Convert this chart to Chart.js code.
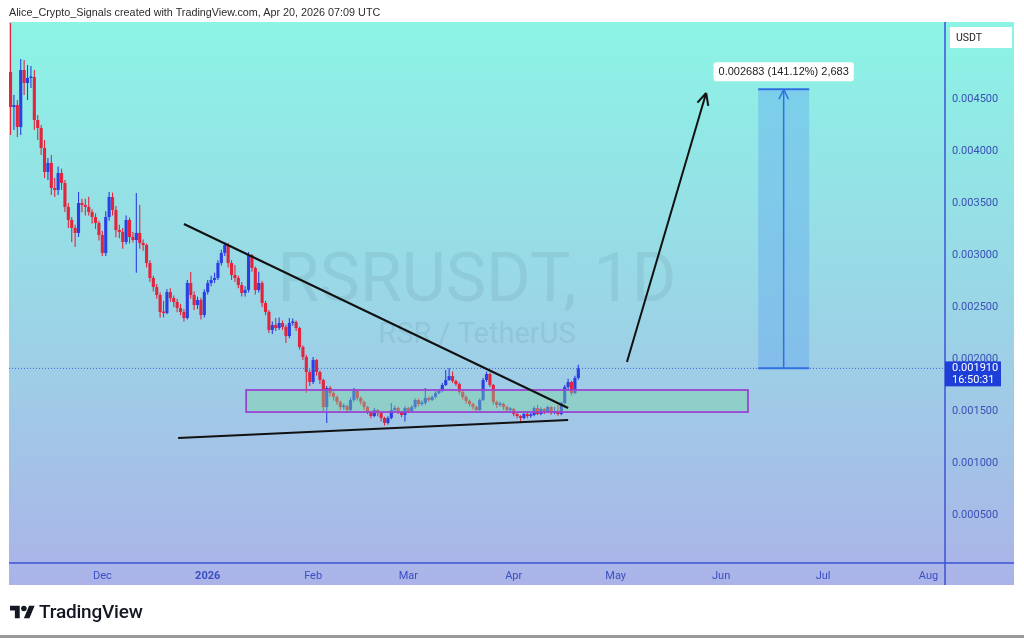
<!DOCTYPE html>
<html>
<head>
<meta charset="utf-8">
<script src="https://cdn.jsdelivr.net/npm/chart.js@4.4.1/dist/chart.umd.min.js"></script>
<style>
  html, body { margin: 0; padding: 0; background: #fff; }
  body { width: 1024px; height: 638px; position: relative; overflow: hidden; font-family: "Liberation Sans", Arial, sans-serif; }
  #grafica { position: absolute; left: 0; top: 0; }
  #titulo { position: absolute; left: 9px; top: 6px; font-size: 10.8px; color: #2b2b2b; z-index: 2; white-space: nowrap; }
  #marca { position: absolute; left: 10px; top: 600px; display: flex; align-items: center; z-index: 2; }
  #marca span { font-family: Roboto, sans-serif; font-weight: 500; font-size: 19px; color: #131722; margin-left: 4px; letter-spacing: -0.2px; }
  #pie { position: absolute; left: 0; top: 635px; width: 1024px; height: 3px; background: #9a9a9a; }
</style>
</head>
<body>
<div id="titulo">Alice_Crypto_Signals created with TradingView.com, Apr 20, 2026 07:09 UTC</div>
<canvas id="grafica" width="1024" height="638"></canvas>
<div id="marca">
  <svg width="25" height="18" viewBox="0 0 36 26"><path fill="#131722" d="M14 22H7V11H0V4h14v18zM28 22h-8l7.5-18h8L28 22z"/><circle fill="#131722" cx="20" cy="8" r="4"/></svg>
  <span>TradingView</span>
</div>
<div id="pie"></div>

<script>
// velas diarias RSRUSDT, dia 0 = 4 nov 2025
const aperturas = [
  0.004760,0.004423,0.004442,0.004231,0.004779,0.004654,0.004702,0.004711,0.004298,0.004221,
  0.004029,0.003798,0.003885,0.003644,0.003625,0.003788,0.003692,0.003462,0.003337,0.003260,
  0.003212,0.003500,0.003481,0.003462,0.003413,0.003365,0.003308,0.003192,0.003019,0.003365,
  0.003558,0.003433,0.003240,0.003221,0.003125,0.003337,0.003173,0.003144,0.003212,0.003115,
  0.003096,0.002923,0.002779,0.002692,0.002615,0.002452,0.002442,0.002644,0.002586,0.002548,
  0.002490,0.002452,0.002394,0.002731,0.002615,0.002519,0.002567,0.002423,0.002644,0.002731,
  0.002760,0.002779,0.002923,0.003019,0.003096,0.002923,0.002808,0.002779,0.002711,0.002635,
  0.002663,0.003000,0.002875,0.002663,0.002731,0.002538,0.002452,0.002279,0.002327,0.002298,
  0.002346,0.002308,0.002221,0.002346,0.002356,0.002298,0.002115,0.002019,0.001875,0.001779,
  0.001990,0.001875,0.001798,0.001538,0.001721,0.001673,0.001635,0.001587,0.001538,0.001548,
  0.001510,0.001606,0.001702,0.001625,0.001587,0.001538,0.001490,0.001452,0.001510,0.001481,
  0.001433,0.001385,0.001433,0.001510,0.001529,0.001490,0.001462,0.001529,0.001500,0.001538,
  0.001606,0.001567,0.001577,0.001625,0.001606,0.001635,0.001673,0.001692,0.001750,0.001798,
  0.001836,0.001788,0.001760,0.001683,0.001635,0.001596,0.001567,0.001538,0.001510,0.001606,
  0.001798,0.001856,0.001750,0.001587,0.001558,0.001567,0.001538,0.001510,0.001519,0.001471,
  0.001452,0.001433,0.001471,0.001452,0.001462,0.001529,0.001471,0.001519,0.001490,0.001538,
  0.001481,0.001500,0.001471,0.001577,0.001731,0.001779,0.001673,0.001817
];
const cierres = [
  0.004423,0.004442,0.004231,0.004779,0.004654,0.004702,0.004711,0.004298,0.004221,0.004029,
  0.003798,0.003885,0.003644,0.003625,0.003788,0.003692,0.003462,0.003337,0.003260,0.003212,
  0.003500,0.003481,0.003462,0.003413,0.003365,0.003308,0.003192,0.003019,0.003365,0.003558,
  0.003433,0.003240,0.003221,0.003125,0.003337,0.003173,0.003144,0.003212,0.003115,0.003096,
  0.002923,0.002779,0.002692,0.002615,0.002452,0.002442,0.002644,0.002586,0.002548,0.002490,
  0.002452,0.002394,0.002731,0.002615,0.002519,0.002567,0.002423,0.002644,0.002731,0.002760,
  0.002779,0.002923,0.003019,0.003096,0.002923,0.002808,0.002779,0.002711,0.002635,0.002663,
  0.003000,0.002875,0.002663,0.002731,0.002538,0.002452,0.002279,0.002327,0.002298,0.002346,
  0.002308,0.002221,0.002346,0.002356,0.002298,0.002115,0.002019,0.001875,0.001779,0.001990,
  0.001875,0.001798,0.001538,0.001721,0.001673,0.001635,0.001587,0.001538,0.001548,0.001510,
  0.001606,0.001702,0.001625,0.001587,0.001538,0.001490,0.001452,0.001510,0.001481,0.001433,
  0.001385,0.001433,0.001510,0.001529,0.001490,0.001462,0.001529,0.001500,0.001538,0.001606,
  0.001567,0.001577,0.001625,0.001606,0.001635,0.001673,0.001692,0.001750,0.001798,0.001836,
  0.001788,0.001760,0.001683,0.001635,0.001596,0.001567,0.001538,0.001510,0.001606,0.001798,
  0.001856,0.001750,0.001587,0.001558,0.001567,0.001538,0.001510,0.001519,0.001471,0.001452,
  0.001433,0.001471,0.001452,0.001462,0.001529,0.001471,0.001519,0.001490,0.001538,0.001481,
  0.001500,0.001471,0.001577,0.001731,0.001779,0.001673,0.001817,0.001910
];
const maximos = [
  0.005231,0.004538,0.004490,0.004884,0.004875,0.004827,0.004817,0.004779,0.004346,0.004250,
  0.004106,0.003933,0.003962,0.003740,0.003850,0.003830,0.003721,0.003500,0.003365,0.003290,
  0.003606,0.003540,0.003540,0.003560,0.003440,0.003400,0.003330,0.003230,0.003420,0.003606,
  0.003600,0.003470,0.003290,0.003260,0.003380,0.003360,0.003220,0.003596,0.003480,0.003150,
  0.003110,0.002950,0.002800,0.002720,0.002640,0.002560,0.002670,0.002680,0.002610,0.002580,
  0.002530,0.002480,0.002760,0.002836,0.002650,0.002600,0.002590,0.002670,0.002760,0.002800,
  0.002830,0.002950,0.003050,0.003125,0.003115,0.002950,0.002904,0.002800,0.002740,0.002700,
  0.003029,0.003010,0.002890,0.002840,0.002750,0.002560,0.002470,0.002360,0.002394,0.002400,
  0.002370,0.002330,0.002394,0.002390,0.002370,0.002310,0.002130,0.002040,0.001900,0.002020,
  0.002000,0.001890,0.001810,0.001740,0.001740,0.001690,0.001650,0.001600,0.001570,0.001560,
  0.001630,0.001720,0.001710,0.001640,0.001600,0.001550,0.001500,0.001530,0.001520,0.001495,
  0.001445,0.001450,0.001577,0.001550,0.001540,0.001500,0.001545,0.001540,0.001555,0.001620,
  0.001620,0.001600,0.001721,0.001640,0.001650,0.001690,0.001710,0.001770,0.001894,0.001913,
  0.001880,0.001800,0.001775,0.001700,0.001650,0.001610,0.001580,0.001550,0.001620,0.001820,
  0.001880,0.001870,0.001760,0.001600,0.001590,0.001580,0.001550,0.001535,0.001530,0.001480,
  0.001460,0.001490,0.001500,0.001480,0.001545,0.001560,0.001535,0.001530,0.001550,0.001545,
  0.001540,0.001560,0.001590,0.001750,0.001810,0.001790,0.001840,0.001945
];
const minimos = [
  0.004154,0.004202,0.004135,0.004154,0.004538,0.004490,0.004606,0.004202,0.004106,0.003962,
  0.003740,0.003721,0.003577,0.003558,0.003577,0.003625,0.003413,0.003260,0.003125,0.003077,
  0.003173,0.003410,0.003380,0.003380,0.003300,0.003250,0.003140,0.002990,0.002990,0.003330,
  0.003380,0.003170,0.003160,0.003060,0.003100,0.003110,0.003120,0.002830,0.003060,0.003040,
  0.002880,0.002740,0.002650,0.002580,0.002400,0.002400,0.002430,0.002550,0.002500,0.002450,
  0.002420,0.002360,0.002380,0.002580,0.002470,0.002480,0.002380,0.002400,0.002620,0.002700,
  0.002730,0.002760,0.002900,0.002990,0.002880,0.002760,0.002740,0.002680,0.002600,0.002600,
  0.002640,0.002840,0.002620,0.002640,0.002500,0.002420,0.002250,0.002240,0.002270,0.002280,
  0.002280,0.002154,0.002200,0.002320,0.002270,0.002090,0.001990,0.001673,0.001740,0.001760,
  0.001840,0.001760,0.001500,0.001385,0.001640,0.001600,0.001560,0.001510,0.001515,0.001480,
  0.001500,0.001590,0.001600,0.001560,0.001510,0.001470,0.001430,0.001440,0.001450,0.001400,
  0.001360,0.001370,0.001420,0.001495,0.001470,0.001440,0.001400,0.001480,0.001490,0.001520,
  0.001545,0.001550,0.001560,0.001590,0.001595,0.001620,0.001660,0.001680,0.001740,0.001790,
  0.001770,0.001740,0.001660,0.001610,0.001570,0.001540,0.001515,0.001480,0.001500,0.001595,
  0.001780,0.001730,0.001560,0.001530,0.001540,0.001510,0.001490,0.001495,0.001450,0.001430,
  0.001385,0.001420,0.001430,0.001435,0.001450,0.001460,0.001460,0.001470,0.001480,0.001465,
  0.001470,0.001455,0.001460,0.001565,0.001710,0.001650,0.001660,0.001800
];

// eje de tiempo (dias desde 4 nov 2025) y eje de precio
const diasMes = [27, 58, 89, 117, 148, 178, 209, 239, 270];
const etiquetasMes = ['Dec', '2026', 'Feb', 'Mar', 'Apr', 'May', 'Jun', 'Jul', 'Aug'];
const ticksPrecio = [0.0005, 0.0010, 0.0015, 0.0020, 0.0025, 0.0030, 0.0035, 0.0040, 0.0045];

// dibujos del autor en coordenadas de dia / precio
const lineaSuperior = [[51.0, 0.003298], [164.0, 0.001529]];
const lineaInferior = [[49.3, 0.001240], [164.0, 0.001413]];
const flecha = [[181.3, 0.001971], [204.6, 0.004558]];
const zonaDias = [69.3, 216.9];
const zonaPrecios = [0.001490, 0.001702];
const objetivoDias = [219.9, 234.9];
const objetivoPrecios = [0.001910, 0.004593];
const textoObjetivo = '0.002683 (141.12%) 2,683';
const ultimoPrecio = 0.001910;
const cuentaAtras = '16:50:31';

const AZUL = '#2b3fe3';
const ROJO = '#e3243d';
const dias = cierres.map((_, i) => i);
const colores = cierres.map((c, i) => c >= aperturas[i] ? AZUL : ROJO);

function linea(ctx, x1, y1, x2, y2) {
    ctx.beginPath();
    ctx.moveTo(x1, y1);
    ctx.lineTo(x2, y2);
    ctx.stroke();
}

function punta(ctx, x1, y1, x2, y2, largo) {
    const ang = Math.atan2(y2 - y1, x2 - x1);
    linea(ctx, x2, y2, x2 - largo * Math.cos(ang - 0.45), y2 - largo * Math.sin(ang - 0.45));
    linea(ctx, x2, y2, x2 - largo * Math.cos(ang + 0.45), y2 - largo * Math.sin(ang + 0.45));
}

const capas = {
    id: 'capas',
    beforeDraw(chart) {
        const { ctx, chartArea: a, scales: { x, y } } = chart;
        const g = ctx.createLinearGradient(0, a.top, 0, x.bottom);
        g.addColorStop(0, '#8cf4e5');
        g.addColorStop(0.5, '#9ad6e6');
        g.addColorStop(1, '#abb3e8');
        ctx.save();
        ctx.fillStyle = g;
        ctx.fillRect(a.left, a.top, y.right - a.left, x.bottom - a.top);
        ctx.restore();
    },
    beforeDatasetsDraw(chart) {
        const { ctx, chartArea: a } = chart;
        const cx = (a.left + a.right) / 2;
        const cy = (a.top + a.bottom) / 2;
        ctx.save();
        ctx.fillStyle = 'rgba(60, 95, 120, 0.11)';
        ctx.textAlign = 'center';
        ctx.textBaseline = 'middle';
        ctx.font = '68px Roboto, sans-serif';
        ctx.fillText('RSRUSDT, 1D', cx, cy - 9);
        ctx.font = '29px Roboto, sans-serif';
        ctx.fillText('RSR / TetherUS', cx, cy + 43);
        ctx.restore();
    },
    afterDatasetsDraw(chart) {
        const { ctx, chartArea: a, scales: { x, y } } = chart;
        ctx.save();

        // zona de soporte
        const zx1 = x.getPixelForValue(zonaDias[0]);
        const zx2 = x.getPixelForValue(zonaDias[1]);
        const zy1 = y.getPixelForValue(zonaPrecios[1]);
        const zy2 = y.getPixelForValue(zonaPrecios[0]);
        ctx.fillStyle = 'rgba(120, 215, 160, 0.42)';
        ctx.fillRect(zx1, zy1, zx2 - zx1, zy2 - zy1);
        ctx.strokeStyle = '#9a45d2';
        ctx.lineWidth = 1.8;
        ctx.strokeRect(zx1, zy1, zx2 - zx1, zy2 - zy1);

        // ultimo precio punteado
        const yp = y.getPixelForValue(ultimoPrecio);
        ctx.strokeStyle = '#4a5fd2';
        ctx.lineWidth = 1;
        ctx.setLineDash([1, 2]);
        linea(ctx, a.left, yp, a.right, yp);
        ctx.setLineDash([]);

        // triangulo
        ctx.strokeStyle = '#111';
        ctx.lineWidth = 2;
        [lineaSuperior, lineaInferior].forEach(l => {
            linea(ctx, x.getPixelForValue(l[0][0]), y.getPixelForValue(l[0][1]),
                x.getPixelForValue(l[1][0]), y.getPixelForValue(l[1][1]));
        });

        // flecha
        const fx1 = x.getPixelForValue(flecha[0][0]), fy1 = y.getPixelForValue(flecha[0][1]);
        const fx2 = x.getPixelForValue(flecha[1][0]), fy2 = y.getPixelForValue(flecha[1][1]);
        linea(ctx, fx1, fy1, fx2, fy2);
        punta(ctx, fx1, fy1, fx2, fy2, 13);

        // medicion del objetivo
        const ox1 = x.getPixelForValue(objetivoDias[0]);
        const ox2 = x.getPixelForValue(objetivoDias[1]);
        const oy1 = y.getPixelForValue(objetivoPrecios[1]);
        const oy2 = y.getPixelForValue(objetivoPrecios[0]);
        const ocx = (ox1 + ox2) / 2;
        ctx.fillStyle = 'rgba(95, 165, 240, 0.4)';
        ctx.fillRect(ox1, oy1, ox2 - ox1, oy2 - oy1);
        ctx.strokeStyle = '#2f6fe2';
        ctx.lineWidth = 2;
        linea(ctx, ox1, oy1, ox2, oy1);
        linea(ctx, ox1, oy2, ox2, oy2);
        ctx.lineWidth = 1.5;
        linea(ctx, ocx, oy2, ocx, oy1);
        punta(ctx, ocx, oy2, ocx, oy1, 11);

        ctx.font = '11px "Liberation Sans", Arial, sans-serif';
        const w = ctx.measureText(textoObjetivo).width + 10;
        ctx.fillStyle = '#fff';
        ctx.beginPath();
        ctx.roundRect(ocx - w / 2, oy1 - 27, w, 19, 3);
        ctx.fill();
        ctx.fillStyle = '#222';
        ctx.textAlign = 'center';
        ctx.textBaseline = 'middle';
        ctx.fillText(textoObjetivo, ocx, oy1 - 17);
        ctx.restore();
    },
    afterDraw(chart) {
        const { ctx, chartArea: a, scales: { x, y } } = chart;
        ctx.save();
        ctx.strokeStyle = '#3c52d6';
        ctx.lineWidth = 1.5;
        linea(ctx, a.left, x.top, y.right, x.top);
        linea(ctx, a.right, a.top, a.right, x.bottom);

        // etiqueta de precio actual
        const yp = y.getPixelForValue(ultimoPrecio);
        ctx.fillStyle = '#1d3fd8';
        ctx.fillRect(a.right, yp - 7, 56, 25);
        ctx.fillStyle = '#fff';
        ctx.font = '11px Roboto, sans-serif';
        ctx.textBaseline = 'middle';
        ctx.fillText(ultimoPrecio.toFixed(6), a.right + 7, yp);
        ctx.fillText(cuentaAtras, a.right + 7, yp + 12);

        // moneda
        ctx.fillStyle = '#fff';
        ctx.fillRect(a.right + 5, a.top + 5, 62, 21);
        ctx.fillStyle = '#222';
        ctx.font = '10.5px Roboto, sans-serif';
        ctx.fillText('USDT', a.right + 11, a.top + 16);
        ctx.restore();
    }
};

new Chart(document.getElementById('grafica').getContext('2d'), {
    type: 'bar',
    data: {
        datasets: [{
            label: 'Cuerpo',
            data: dias.map(d => ({ x: d, y: [aperturas[d], cierres[d]] })),
            backgroundColor: colores,
            categoryPercentage: 1,
            barPercentage: 0.92,
            minBarLength: 1.5,
            grouped: false,
            order: 0
        }, {
            label: 'Mecha',
            data: dias.map(d => ({ x: d, y: [minimos[d], maximos[d]] })),
            backgroundColor: colores,
            maxBarThickness: 1.1,
            grouped: false,
            order: 1
        }]
    },
    options: {
        responsive: false,
        animation: false,
        layout: { padding: { left: 9, top: 22, right: 10, bottom: 53 } },
        plugins: { legend: { display: false }, tooltip: { enabled: false } },
        scales: {
            x: {
                type: 'linear',
                offset: false,
                min: -0.45,
                max: 274.85,
                grid: { display: false, drawTicks: false },
                border: { display: false },
                afterBuildTicks: s => { s.ticks = diasMes.map(v => ({ value: v })); },
                afterFit: s => { s.height = 22; },
                ticks: {
                    autoSkip: false,
                    maxRotation: 0,
                    padding: 7,
                    color: '#3a4fc2',
                    font: c => ({ family: 'Roboto, sans-serif', size: 11, weight: c.index === 1 ? 'bold' : 'normal' }),
                    callback: (v, i) => etiquetasMes[i]
                }
            },
            y: {
                position: 'right',
                min: 0.0000385,
                max: 0.0052404,
                grid: { display: false, drawTicks: false },
                border: { display: false },
                afterBuildTicks: s => { s.ticks = ticksPrecio.map(v => ({ value: v })); },
                afterFit: s => { s.width = 69; },
                ticks: {
                    padding: 7,
                    color: '#3b50b6',
                    font: { family: 'Roboto, sans-serif', size: 11 },
                    callback: v => v.toFixed(6)
                }
            }
        }
    },
    plugins: [capas]
});
</script>
</body>
</html>
